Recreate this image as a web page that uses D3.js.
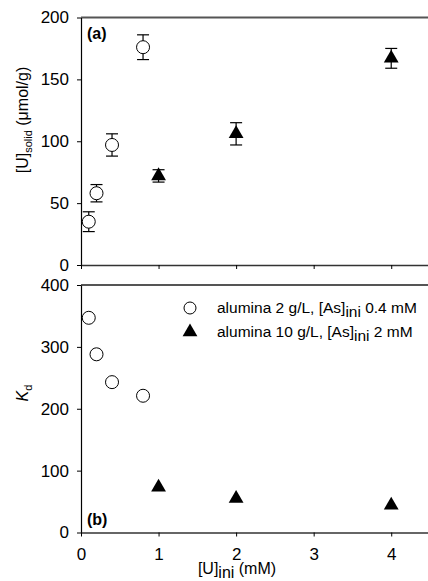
<!DOCTYPE html>
<html>
<head>
<meta charset="utf-8">
<script src="https://cdn.jsdelivr.net/npm/d3@7"></script>
<style>
  body { margin: 0; background: #fff; }
  svg { font-family: "Liberation Sans", Arial, sans-serif; }
</style>
</head>
<body>
<script>
// Data
var circleX = [0.1, 0.2, 0.4, 0.8];
var circleU = [35, 58, 97, 176];
var circleUErr = [8, 7, 9, 10];
var circleKd = [347, 288, 243, 221];

var triX = [1, 2, 4];
var triU = [72, 106, 167];
var triUErr = [5, 9, 8];
var triKd = [73, 55, 44];

var xTicks = [0, 1, 2, 3, 4];
var uTicks = [0, 50, 100, 150, 200];
var kdTicks = [0, 100, 200, 300, 400];

var legendLabels = ["alumina 2 g/L, [As]", "alumina 10 g/L, [As]"];
var legendTails = [" 0.4 mM", " 2 mM"];

var W = 428, H = 581;
var left = 81, right = 430;

var svg = d3.select("body").append("svg")
    .attr("width", W)
    .attr("height", H);

var x = d3.scaleLinear().domain([0, 4.5]).range([left, right]);
var yA = d3.scaleLinear().domain([0, 200]).range([265, 17.5]);
var yB = d3.scaleLinear().domain([0, 400]).range([532.5, 285]);

function zip(xs, ys, es) {
    return xs.map(function(v, i) { return { x: v, y: ys[i], e: es ? es[i] : 0 }; });
}

function drawPanel(y, ticks, showXLabels) {
    var g = svg.append("g");

    // top border
    g.append("line")
        .attr("x1", x(0)).attr("x2", right)
        .attr("y1", y.range()[1]).attr("y2", y.range()[1])
        .attr("stroke", "#555").attr("stroke-width", 2);

    var ya = g.append("g")
        .attr("transform", "translate(" + x(0) + ",0)")
        .call(d3.axisLeft(y).tickValues(ticks).tickSize(4).tickSizeOuter(0));
    ya.select(".domain").attr("stroke", "#000").attr("stroke-width", 1.2);
    ya.selectAll("text").attr("font-size", 17).attr("fill", "#000").attr("dx", "-5");

    var xa = g.append("g")
        .attr("transform", "translate(0," + y(0) + ")")
        .call(d3.axisBottom(x).tickValues(xTicks).tickSize(4).tickSizeOuter(0)
            .tickFormat(d3.format("d")));
    xa.select(".domain").attr("stroke", "#333").attr("stroke-width", 1.5);
    xa.selectAll("text").attr("font-size", 17).attr("fill", "#000").attr("dy", "1.2em");
    if (!showXLabels) xa.selectAll("text").remove();
    return g;
}

var gA = drawPanel(yA, uTicks, false);
var gB = drawPanel(yB, kdTicks, true);

var tri = d3.symbol().type(d3.symbolTriangle).size(95);

// panel (a) error bars
function errorBars(g, data, y) {
    var eb = g.selectAll(null).data(data).enter().append("g")
        .attr("stroke", "#000").attr("stroke-width", 1.2);
    eb.append("line")
        .attr("x1", function(d) { return x(d.x); })
        .attr("x2", function(d) { return x(d.x); })
        .attr("y1", function(d) { return y(d.y - d.e); })
        .attr("y2", function(d) { return y(d.y + d.e); });
    eb.append("line")
        .attr("x1", function(d) { return x(d.x) - 6; })
        .attr("x2", function(d) { return x(d.x) + 6; })
        .attr("y1", function(d) { return y(d.y - d.e); })
        .attr("y2", function(d) { return y(d.y - d.e); });
    eb.append("line")
        .attr("x1", function(d) { return x(d.x) - 6; })
        .attr("x2", function(d) { return x(d.x) + 6; })
        .attr("y1", function(d) { return y(d.y + d.e); })
        .attr("y2", function(d) { return y(d.y + d.e); });
}

errorBars(gA, zip(circleX, circleU, circleUErr), yA);
errorBars(gA, zip(triX, triU, triUErr), yA);

function circles(g, data, y) {
    g.selectAll(null).data(data).enter().append("circle")
        .attr("cx", function(d) { return x(d.x); })
        .attr("cy", function(d) { return y(d.y); })
        .attr("r", 6.5)
        .attr("fill", "#fff")
        .attr("stroke", "#000")
        .attr("stroke-width", 1);
}

function triangles(g, data, y) {
    g.selectAll(null).data(data).enter().append("path")
        .attr("d", tri)
        .attr("transform", function(d) { return "translate(" + x(d.x) + "," + y(d.y) + ")"; })
        .attr("fill", "#000");
}

circles(gA, zip(circleX, circleU), yA);
triangles(gA, zip(triX, triU), yA);
circles(gB, zip(circleX, circleKd), yB);
triangles(gB, zip(triX, triKd), yB);

// panel tags
svg.append("text").attr("x", 87).attr("y", 39)
    .attr("font-size", 16).attr("font-weight", "bold").text("(a)");
svg.append("text").attr("x", 87).attr("y", 525)
    .attr("font-size", 16).attr("font-weight", "bold").text("(b)");

// legend
var leg = svg.append("g");
leg.append("circle").attr("cx", 190).attr("cy", 308).attr("r", 6)
    .attr("fill", "#fff").attr("stroke", "#000");
leg.append("path").attr("d", tri).attr("transform", "translate(190,332)").attr("fill", "#000");
legendLabels.forEach(function(lbl, i) {
    var t = leg.append("text").attr("x", 217).attr("y", 313 + i * 24).attr("font-size", 15.5);
    t.append("tspan").text(lbl);
    t.append("tspan").attr("dy", 4).text("ini");
    t.append("tspan").attr("dy", -4).text(legendTails[i]);
});

// axis titles
var yt = svg.append("text")
    .attr("transform", "translate(28,120) rotate(-90)")
    .attr("text-anchor", "middle")
    .attr("font-size", 16);
yt.append("tspan").text("[U]");
yt.append("tspan").attr("dy", 4).attr("font-size", 11).text("solid");
yt.append("tspan").attr("dy", -4).text(" (\u03bcmol/g)");

var kt = svg.append("text")
    .attr("transform", "translate(28,393) rotate(-90)")
    .attr("text-anchor", "middle")
    .attr("font-size", 16);
kt.append("tspan").attr("font-style", "italic").text("K");
kt.append("tspan").attr("dy", 4).attr("font-size", 11).text("d");

var xt = svg.append("text")
    .attr("x", 237).attr("y", 574)
    .attr("text-anchor", "middle")
    .attr("font-size", 16);
xt.append("tspan").text("[U]");
xt.append("tspan").attr("dy", 4).text("ini");
xt.append("tspan").attr("dy", -4).text(" (mM)");
</script>
</body>
</html>
